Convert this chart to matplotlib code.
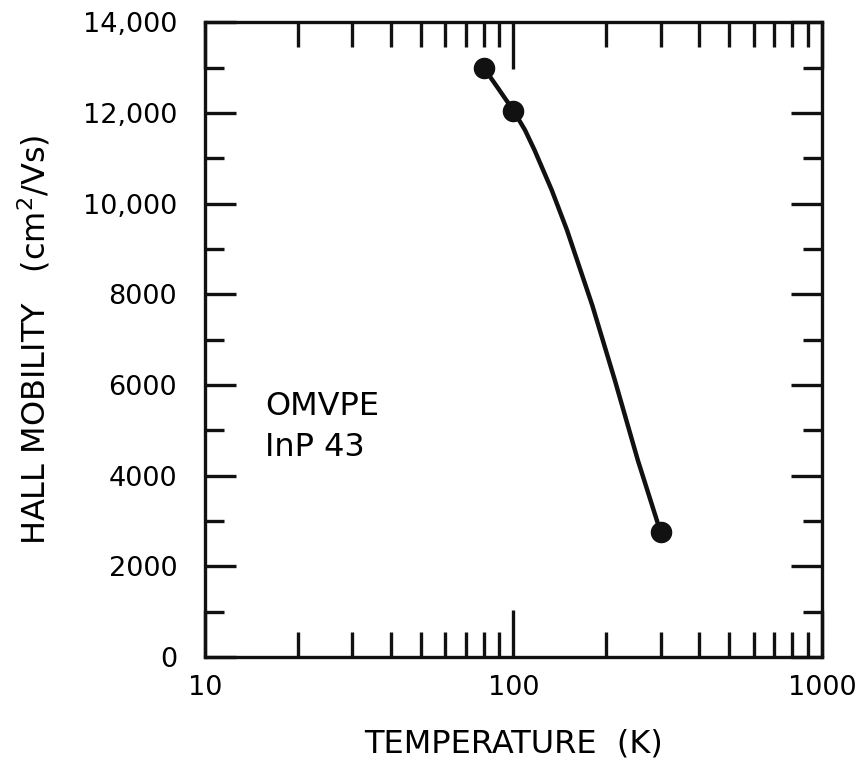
import numpy as np
import matplotlib.pyplot as plt
from matplotlib.ticker import FixedLocator, LogLocator, NullFormatter

# measured points
temp_pts = [80, 100, 300]
mob_pts = [13000, 12050, 2750]

# hand-drawn curve
temp_curve = [80, 89, 100, 109, 117, 133, 149, 180, 213, 253, 300]
mob_curve = [13000, 12550, 12050, 11620, 11180, 10300, 9420, 7760, 6110, 4340, 2750]

yticks = [0, 2000, 4000, 6000, 8000, 10000, 12000, 14000]
ylabels = ['0', '2000', '4000', '6000', '8000', '10,000', '12,000', '14,000']

plt.rcParams['font.family'] = 'DejaVu Sans'
fig = plt.figure(figsize=(8.63, 7.65), dpi=100)
ax = fig.add_axes([0.2375, 0.141, 0.715, 0.83])

ax.plot(temp_curve, mob_curve, color='#111111', lw=3.2,
        solid_capstyle='round', solid_joinstyle='round')
ax.plot(temp_pts, mob_pts, 'o', color='#111111', ms=14.5)

ax.set_xscale('log')
ax.set_xlim(10, 1000)
ax.set_ylim(0, 14000)

ax.xaxis.set_major_locator(FixedLocator([10, 100, 1000]))
ax.xaxis.set_minor_locator(LogLocator(base=10, subs=np.arange(2, 10)))
ax.xaxis.set_minor_formatter(NullFormatter())
ax.set_xticks([10, 100, 1000], ['10', '100', '1000'])
ax.set_yticks(yticks, ylabels)
ax.yaxis.set_minor_locator(FixedLocator(range(1000, 14000, 2000)))

ax.tick_params(which='major', direction='in', top=True, right=True,
               length=22, width=2.4, labelsize=19.5, color='#111111')
ax.tick_params(axis='x', which='major', length=34, pad=13)
ax.tick_params(axis='y', which='major', pad=20)
ax.tick_params(which='minor', direction='in', top=True, right=True,
               length=14, width=2.4, color='#111111')
ax.tick_params(axis='x', which='minor', length=18)

for s in ax.spines.values():
    s.set_linewidth(2.4)
    s.set_color('#111111')

ax.set_xlabel('TEMPERATURE  (K)', fontsize=23, labelpad=20)
ax.set_ylabel('HALL MOBILITY   (cm$^2$/Vs)', fontsize=23, labelpad=22)

ax.text(0.097, 0.362, 'OMVPE\nInP 43', transform=ax.transAxes,
        fontsize=23, va='center', ha='left', linespacing=1.4)

fig.savefig('out.png', dpi=100)
